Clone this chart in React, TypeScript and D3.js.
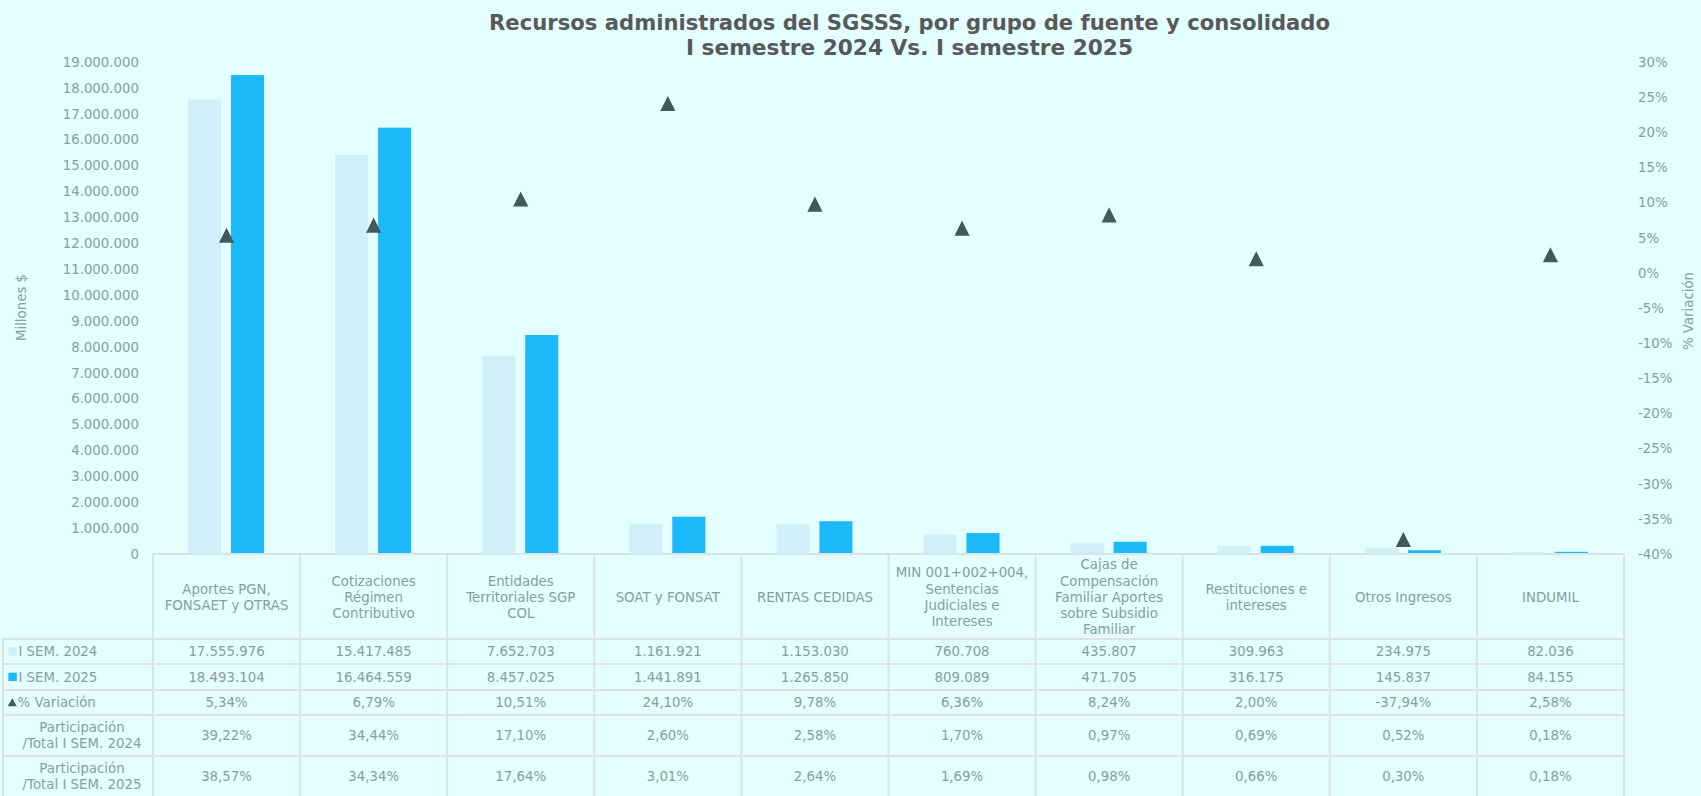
import React from 'react';
import * as d3 from 'd3';

const categories: string[] = [
  'Aportes PGN,\nFONSAET y OTRAS',
  'Cotizaciones\nRégimen\nContributivo',
  'Entidades\nTerritoriales SGP\nCOL',
  'SOAT y FONSAT',
  'RENTAS CEDIDAS',
  'MIN 001+002+004,\nSentencias\nJudiciales e\nIntereses',
  'Cajas de\nCompensación\nFamiliar Aportes\nsobre Subsidio\nFamiliar',
  'Restituciones e\nintereses',
  'Otros Ingresos',
  'INDUMIL',
];
const seriesNames: string[] = ['I SEM. 2024', 'I SEM. 2025'];
const sem2024: number[] = [17555976, 15417485, 7652703, 1161921, 1153030, 760708, 435807, 309963, 234975, 82036];
const sem2025: number[] = [18493104, 16464559, 8457025, 1441891, 1265850, 809089, 471705, 316175, 145837, 84155];
const variation: number[] = [5.34, 6.79, 10.51, 24.1, 9.78, 6.36, 8.24, 2.0, -37.94, 2.58];
const part2024: number[] = [39.22, 34.44, 17.1, 2.6, 2.58, 1.7, 0.97, 0.69, 0.52, 0.18];
const part2025: number[] = [38.57, 34.34, 17.64, 3.01, 2.64, 1.69, 0.98, 0.66, 0.3, 0.18];
const leftTickValues: number[] = d3.range(0, 19000001, 1000000);
const rightTickValues: number[] = d3.range(-40, 31, 5);
const titleLines: string[] = [
  'Recursos administrados del SGSSS, por grupo de fuente y consolidado',
  'I semestre 2024 Vs. I semestre 2025',
];

const loc = d3.formatLocale({ decimal: ',', thousands: '.', grouping: [3], currency: ['$', ''], minus: '-' });
const fmtInt = loc.format(',.0f');
const fmtPct = (v: number) => loc.format('.2f')(v) + '%';

const BG = '#e3ffff';
const LIGHT = '#d2eff9';
const DARK = '#1bb9f9';
const TRI = '#42595b';
const TXT = '#889d9e';
const GRID = '#dae4e4';
const FONT = '"DejaVu Sans", Verdana, sans-serif';

export default function App() {
  const W = 1701;
  const H = 796;
  const plotLeft = 153;
  const plotRight = 1624;
  const plotTop = 62;
  const plotBottom = 554;

  const x = d3.scaleBand<string>().domain(categories).range([plotLeft, plotRight]);
  const inner = d3.scaleBand<string>().domain(seriesNames).range([-38.5, 37.5]).paddingInner(0.23);
  const yL = d3.scaleLinear().domain([0, 19000000]).range([plotBottom, plotTop]);
  const yR = d3.scaleLinear().domain([-40, 30]).range([plotBottom, plotTop]);
  const tri = d3.symbol().type(d3.symbolTriangle).size(100)();
  const triSmall = d3.symbol().type(d3.symbolTriangle).size(36)();
  const seriesValues = [sem2024, sem2025];
  const seriesColors = [LIGHT, DARK];

  const rowBounds = [554, 639, 664, 690, 715, 756, 797];
  const tableLeft = 3;

  const rows = [
    { label: [seriesNames[0]], key: 'l', vals: sem2024.map(fmtInt) },
    { label: [seriesNames[1]], key: 'd', vals: sem2025.map(fmtInt) },
    { label: ['% Variación'], key: 't', vals: variation.map(fmtPct) },
    { label: ['Participación', '/Total I SEM. 2024'], key: '', vals: part2024.map(fmtPct) },
    { label: ['Participación', '/Total I SEM. 2025'], key: '', vals: part2025.map(fmtPct) },
  ];

  const bw = x.bandwidth();

  return (
    <svg
      width={W}
      height={H}
      style={{ position: 'absolute', left: 0, top: 0, background: BG, fontFamily: FONT }}
    >
      <rect x={0} y={0} width={W} height={H} fill={BG} />

      {/* title */}
      <g fill="#595959" fontWeight="bold" fontSize={21.5} textAnchor="middle">
        <text x={909.5} y={29.5} textLength={841} lengthAdjust="spacingAndGlyphs">{titleLines[0]}</text>
        <text x={909.5} y={55} textLength={447} lengthAdjust="spacingAndGlyphs">{titleLines[1]}</text>
      </g>

      {/* left axis */}
      <g fontSize={13.33} fill={TXT} textAnchor="end">
        {leftTickValues.map((v) => (
          <text key={v} x={139} y={yL(v)} dy="0.36em">{fmtInt(v)}</text>
        ))}
      </g>
      <text
        transform={`translate(21,307.5) rotate(-90)`}
        textAnchor="middle"
        dy="0.36em"
        fontSize={13.33}
        fill={TXT}
      >
        Millones $
      </text>

      {/* right axis */}
      <g fontSize={13.33} fill={TXT} textAnchor="start">
        {rightTickValues.map((v) => (
          <text key={v} x={1638} y={yR(v)} dy="0.36em">{`${v}%`}</text>
        ))}
      </g>
      <text
        transform={`translate(1688,311) rotate(-90)`}
        textAnchor="middle"
        dy="0.36em"
        fontSize={13.33}
        fill={TXT}
      >
        % Variación
      </text>

      {/* bars */}
      {seriesValues.map((vals, si) => (
        <g key={si} fill={seriesColors[si]}>
          {vals.map((v, i) => {
            const cx = (x(categories[i]) as number) + bw / 2;
            const bx = cx + (inner(seriesNames[si]) as number);
            return (
              <rect
                key={i}
                x={bx}
                y={yL(v)}
                width={inner.bandwidth()}
                height={plotBottom - yL(v)}
              />
            );
          })}
        </g>
      ))}

      {/* variation markers */}
      <g fill={TRI}>
        {variation.map((v, i) => {
          const cx = (x(categories[i]) as number) + bw / 2;
          return (
            <path
              key={i}
              d={tri as string}
              transform={`translate(${cx},${yR(v) + 2.5}) scale(1,1.15)`}
            />
          );
        })}
      </g>

      {/* table grid */}
      <g stroke={GRID} strokeWidth={2} fill="none">
        <line x1={plotLeft} x2={plotRight} y1={rowBounds[0]} y2={rowBounds[0]} />
        {rowBounds.slice(1).map((y, i) => (
          <line key={i} x1={tableLeft} x2={plotRight} y1={y} y2={y} />
        ))}
        <line x1={tableLeft} x2={tableLeft} y1={rowBounds[1]} y2={rowBounds[6]} />
        {categories.map((c, i) => (
          <line key={i} x1={x(c) as number} x2={x(c) as number} y1={rowBounds[0]} y2={rowBounds[6]} />
        ))}
        <line x1={plotRight} x2={plotRight} y1={rowBounds[0]} y2={rowBounds[6]} />
      </g>

      {/* header labels */}
      <g fontSize={13.33} fill={TXT} textAnchor="middle">
        {categories.map((c, i) => {
          const lines = c.split('\n');
          const cx = (x(c) as number) + bw / 2;
          const cy = (rowBounds[0] + rowBounds[1]) / 2 + 0.5;
          const lh = 16.2;
          return (
            <text key={i} x={cx} y={cy - ((lines.length - 1) * lh) / 2} dy="0.36em">
              {lines.map((l, j) => (
                <tspan key={j} x={cx} dy={j === 0 ? '0.36em' : lh}>{l}</tspan>
              ))}
            </text>
          );
        })}
      </g>

      {/* table rows */}
      <g fontSize={13.33} fill={TXT}>
        {rows.map((r, ri) => {
          const cy = (rowBounds[ri + 1] + rowBounds[ri + 2]) / 2;
          return (
            <g key={ri}>
              {r.key === 'l' || r.key === 'd' ? (
                <rect x={8.4} y={cy - 4.3} width={8.4} height={8.4} fill={r.key === 'l' ? LIGHT : DARK} />
              ) : null}
              {r.key === 't' ? (
                <path d={triSmall as string} transform={`translate(12.3,${cy + 1})`} fill={TRI} />
              ) : null}
              {r.label.length === 1 ? (
                <text x={r.key === 't' ? 17.6 : 18.4} y={cy} dy="0.36em" textAnchor="start">{r.label[0]}</text>
              ) : (
                <text x={82} y={cy - 7.8} textAnchor="middle">
                  {r.label.map((l, j) => (
                    <tspan key={j} x={82} dy={j === 0 ? '0.36em' : 15.6}>{l}</tspan>
                  ))}
                </text>
              )}
              {r.vals.map((v, i) => (
                <text
                  key={i}
                  x={(x(categories[i]) as number) + bw / 2}
                  y={cy}
                  dy="0.36em"
                  textAnchor="middle"
                >
                  {v}
                </text>
              ))}
            </g>
          );
        })}
      </g>
    </svg>
  );
}
